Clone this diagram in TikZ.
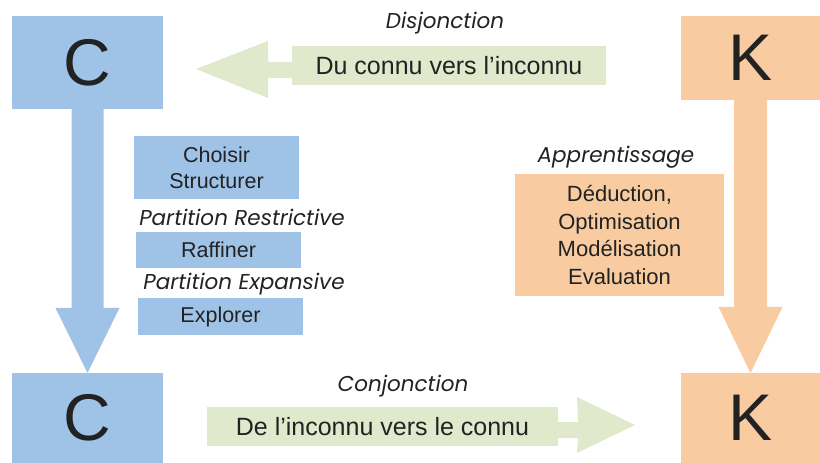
\documentclass[tikz,border=0pt]{standalone}
\usepackage{fontspec}
\setmainfont{Liberation Sans}
\newfontfamily\geo{Poppins}
\usetikzlibrary{calc}
\definecolor{cblue}{HTML}{9FC3E7}
\definecolor{corange}{HTML}{F8CBA0}
\definecolor{cgreen}{HTML}{E1E9CD}
\definecolor{ctext}{HTML}{222222}
\begin{document}
\begin{tikzpicture}[x=1bp,y=-1bp,
  box/.style={inner sep=0, outer sep=0, text=ctext, align=center},
  bigletter/.style={box, font=\fontsize{66bp}{66bp}\selectfont},
  bluebox/.style={box, fill=cblue, font=\fontsize{21.5bp}{26bp}\selectfont},
  orangebox/.style={box, fill=corange, font=\fontsize{22bp}{27.5bp}\selectfont},
  greenbox/.style={box, fill=cgreen, font=\fontsize{25bp}{28bp}\selectfont},
  tag/.style={inner sep=0, text=ctext, font=\geo\itshape\fontsize{21.5bp}{24bp}\selectfont}]
\useasboundingbox (0,0) rectangle (820,463);
% big boxes
\node[bigletter, fill=cblue, minimum width=151bp, minimum height=93bp] (C1) at (87.5,62.5) {C};
\node[bigletter, fill=cblue, minimum width=151bp, minimum height=90bp] (C2) at (87.5,418) {C};
\node[bigletter, fill=corange, minimum width=139bp, minimum height=84bp] (K1) at (750.5,58) {K};
\node[bigletter, fill=corange, minimum width=139bp, minimum height=90bp] (K2) at (750.5,418) {K};
% vertical block arrows
\fill[cblue] ($(C1.south)+(-16,0)$) -- ($(C1.south)+(16,0)$) -- ($(C2.north)+(16,-65)$)
  -- ($(C2.north)+(32,-65)$) -- (C2.north) -- ($(C2.north)+(-32,-65)$) -- ($(C2.north)+(-16,-65)$) -- cycle;
\fill[corange] ($(K1.south)+(-16.5,0)$) -- ($(K1.south)+(16.5,0)$) -- ($(K2.north)+(16.5,-66)$)
  -- ($(K2.north)+(32,-66)$) -- (K2.north) -- ($(K2.north)+(-32,-66)$) -- ($(K2.north)+(-16.5,-66)$) -- cycle;
% green arrows
\node[greenbox, minimum width=314bp, minimum height=39bp] (G1) at (449,65.5) {Du connu vers l’inconnu};
\coordinate (T1) at (196,69);
\fill[cgreen] ($(G1.west)+(0,-3.5)$) -- (268,62) -- (268,41) -- (T1) -- (268,98) -- (268,78) -- ($(G1.west)+(0,12.5)$) -- cycle;
\node[greenbox, minimum width=351bp, minimum height=39bp] (G2) at (382.5,426.5) {De l’inconnu vers le connu};
\coordinate (T2) at (635,425);
\fill[cgreen] ($(G2.east)+(0,-4.5)$) -- (578,422) -- (577,397) -- (T2) -- (577,453) -- (578,438) -- ($(G2.east)+(0,11.5)$) -- cycle;
% labels
\node[tag] (dis) at (445,23) {Disjonction};
\node[tag] (con) at (403,386) {Conjonction};
\node[tag] (app) at (616,157) {Apprentissage};
\node[tag] (pr) at (242,217) {Partition Restrictive};
\node[tag] (pe) at (244,284) {Partition Expansive};
% blue steps
\node[bluebox, minimum width=165bp, minimum height=63bp] (B1) at (216.5,167.5) {Choisir\\Structurer};
\node[bluebox, minimum width=165bp, minimum height=36bp] (B2) at (218.5,250) {Raffiner};
\node[bluebox, minimum width=165bp, minimum height=37bp] (B3) at (220.5,316.5) {Explorer};
% orange box
\node[orangebox, minimum width=209bp, minimum height=122bp] (O) at (619.5,235) {Déduction,\\Optimisation\\Modélisation\\Evaluation};
\end{tikzpicture}
\end{document}
